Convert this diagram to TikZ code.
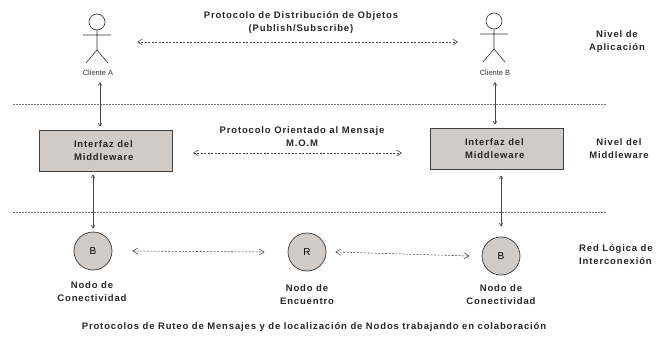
\documentclass[tikz,border=0pt]{standalone}
\usepackage{fontspec}
\setmainfont{Liberation Sans}
\newfontfamily\lblfont[LetterSpace=9]{Liberation Sans}
\usetikzlibrary{arrows.meta,positioning,shapes.geometric}
\definecolor{boxgray}{RGB}{208,203,198}
\definecolor{linegray}{RGB}{70,70,70}
\begin{document}
\begin{tikzpicture}[x=1pt,y=-1pt]
			\tikzset{every node/.style={align=center,inner sep=0pt}}
			\tikzset{lbl/.style={font=\lblfont\bfseries\fontsize{9.5}{13}\selectfont,text=black!85}}
			\tikzset{small/.style={font=\fontsize{7.5}{9}\selectfont,text=black!80}}
			\tikzset{mw/.style={draw=black!75,fill=boxgray,minimum width=133pt,minimum height=41pt,line width=0.7pt}}
			\tikzset{nodo/.style={circle,draw=black!80,fill=boxgray,minimum size=38pt,line width=0.7pt,font=\fontsize{10}{10}\selectfont}}
			\tikzset{link/.style={{Straight Barb[length=3pt,width=3.5pt]}-{Straight Barb[length=3pt,width=3.5pt]},draw=linegray,line width=0.6pt}}
			\tikzset{proto/.style={{Straight Barb[length=5pt,width=6pt]}-{Straight Barb[length=5pt,width=6pt]},draw=linegray,line width=0.55pt,dash pattern=on 2pt off 1.5pt}}
			\tikzset{nivel/.style={draw=black!55,line width=0.6pt,dash pattern=on 1.5pt off 1.5pt}}
			\tikzset{actor/.pic={\draw[line width=0.6pt,black!80] (0,0) circle[radius=8pt] (0,8)--(0,28) (-14,13)--(14,13) (-11,41)--(0,28)--(11,41);}}
			\useasboundingbox (0,0) rectangle (659,337);
			% clientes
			\pic at (97,22) {actor};
			\pic at (494,21) {actor};
			\node[small] (ca) at (98,73) {Cliente A};
			\node[small] (cb) at (495,73) {Cliente B};
			% middleware
			\node[mw,lbl] (ia) at (106,150.5) {\parbox{64pt}{Interfaz del\\Middleware}};
			\node[mw,lbl] (ib) at (497,148.5) {\parbox{64pt}{Interfaz del\\Middleware}};
			% nodos
			\node[nodo] (ba) at (93,251) {B};
			\node[nodo] (r) at (307,252) {R};
			\node[nodo] (bb) at (501,256) {B};
			\node[lbl] (na) at (92,291.5) {Nodo de\\Conectividad};
			\node[lbl] (nr) at (307,295) {Nodo de\\Encuentro};
			\node[lbl] (nb) at (501,295) {Nodo de\\Conectividad};
			% protocolos
			\node[lbl] (pd) at (301,22.5) {Protocolo de Distribución de Objetos\\(Publish/Subscribe)};
			\node[lbl] (pm) at (302,136.5) {Protocolo Orientado al Mensaje\\M.O.M};
			\node[lbl] (pr) at (314,327) {Protocolos de Ruteo de Mensajes y de localización de Nodos trabajando en colaboración};
			% niveles
			\node[lbl] (n1) at (617,41.5) {Nivel de\\Aplicación};
			\node[lbl] (n2) at (619,149) {Nivel del\\Middleware};
			\node[lbl,align=left,anchor=west] (n3) at (579,255) {Red Lógica de\\Interconexión};
			\coordinate (s1a) at (13,104); \coordinate (s1b) at (606,104);
			\coordinate (s2a) at (13,212); \coordinate (s2b) at (606,212);
			\draw[nivel] (s1a) -- (s1b);
			\draw[nivel] (s2a) -- (s2b);
			% conexiones
			\coordinate (ta) at (137,42); \coordinate (tb) at (458,42);
			\coordinate (ma) at (193,153); \coordinate (mb) at (402,153);
			\draw[proto] (ta) -- (tb);
			\draw[proto] (ma) -- (mb);
			\draw[proto] ([xshift=20pt]ba.east) -- ([xshift=-23pt]r.west);
			\draw[proto] ([xshift=9pt]r.east) -- ([xshift=-12pt]bb.west);
			\draw[link,shorten <=6pt,shorten >=3pt] ([xshift=2pt]ca.south) -- ([xshift=2pt]ca.south |- ia.north);
			\draw[link,shorten <=3pt,shorten >=3pt] (ia.south -| ba.north) -- (ba.north);
			\draw[link,shorten <=6pt,shorten >=3pt] (cb.south) -- (cb.south |- ib.north);
			\draw[link,shorten <=6pt,shorten >=10pt] (ib.south -| bb.north) -- (bb.north);
\end{tikzpicture}
\end{document}
